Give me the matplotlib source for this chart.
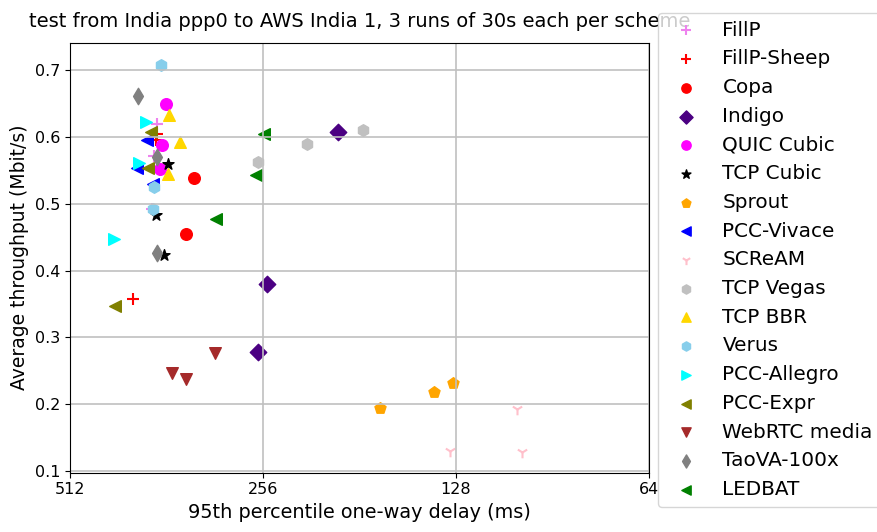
import matplotlib
matplotlib.use("Agg")
import matplotlib.pyplot as plt
from matplotlib.ticker import FixedLocator, NullLocator, FixedFormatter

# (delay ms, throughput Mbit/s) per run
fillp_delay = [375, 379, 381]
fillp_tput = [0.620, 0.571, 0.492]
fillp_sheep_delay = [375, 376, 408]
fillp_sheep_tput = [0.605, 0.596, 0.357]
copa_delay = [328, 337]
copa_tput = [0.539, 0.454]
indigo_delay = [195.5, 252, 260.6]
indigo_tput = [0.608, 0.380, 0.278]
quic_delay = [363, 368, 370]
quic_tput = [0.650, 0.588, 0.552]
cubic_delay = [360.5, 376, 365]
cubic_tput = [0.560, 0.483, 0.423]
sprout_delay = [168.4, 138.7, 129.4]
sprout_tput = [0.194, 0.218, 0.231]
vivace_delay = [388, 402, 380]
vivace_tput = [0.596, 0.553, 0.530]
scream_delay = [103, 130.6, 101]
scream_tput = [0.193, 0.130, 0.128]
vegas_delay = [178.5, 218.7, 260.6]
vegas_tput = [0.610, 0.590, 0.563]
bbr_delay = [359, 345, 360]
bbr_tput = [0.633, 0.593, 0.545]
verus_delay = [369, 378, 380]
verus_tput = [0.707, 0.525, 0.492]
allegro_delay = [390, 400, 436.6]
allegro_tput = [0.623, 0.561, 0.447]
expr_delay = [383, 386.6, 435]
expr_tput = [0.608, 0.554, 0.347]
webrtc_delay = [304, 354.7, 337]
webrtc_tput = [0.277, 0.246, 0.237]
taova_delay = [401, 374, 374]
taova_tput = [0.661, 0.570, 0.426]
ledbat_delay = [254.8, 262.6, 303]
ledbat_tput = [0.604, 0.543, 0.477]

schemes = [
    ("FillP", fillp_delay, fillp_tput, "violet", "+"),
    ("FillP-Sheep", fillp_sheep_delay, fillp_sheep_tput, "red", "+"),
    ("Copa", copa_delay, copa_tput, "red", "o"),
    ("Indigo", indigo_delay, indigo_tput, "indigo", "D"),
    ("QUIC Cubic", quic_delay, quic_tput, "magenta", "o"),
    ("TCP Cubic", cubic_delay, cubic_tput, "black", "*"),
    ("Sprout", sprout_delay, sprout_tput, "orange", "p"),
    ("PCC-Vivace", vivace_delay, vivace_tput, "blue", "<"),
    ("SCReAM", scream_delay, scream_tput, "pink", "1"),
    ("TCP Vegas", vegas_delay, vegas_tput, "silver", "h"),
    ("TCP BBR", bbr_delay, bbr_tput, "gold", "^"),
    ("Verus", verus_delay, verus_tput, "skyblue", "h"),
    ("PCC-Allegro", allegro_delay, allegro_tput, "cyan", ">"),
    ("PCC-Expr", expr_delay, expr_tput, "olive", "<"),
    ("WebRTC media", webrtc_delay, webrtc_tput, "brown", "v"),
    ("TaoVA-100x", taova_delay, taova_tput, "grey", "d"),
    ("LEDBAT", ledbat_delay, ledbat_tput, "green", "<"),
]

xticks = [512, 256, 128, 64]

fig = plt.figure(figsize=(8.77, 5.32), dpi=100)
ax = fig.add_axes([70 / 877, (532 - 472.7) / 532, (649 - 70) / 877, (472.7 - 42.7) / 532])

for name, xs, ys, color, marker in schemes:
    lw = 1.5 if marker in ("+", "1") else None
    ax.scatter(xs, ys, color=color, marker=marker, s=70, label=name, linewidths=lw)

ax.set_xscale("log", base=2)
ax.set_xlim(512, 64)
ax.set_ylim(0.0975, 0.741)
ax.xaxis.set_major_locator(FixedLocator(xticks))
ax.xaxis.set_major_formatter(FixedFormatter([str(t) for t in xticks]))
ax.xaxis.set_minor_locator(NullLocator())
ax.set_yticks([0.1, 0.2, 0.3, 0.4, 0.5, 0.6, 0.7])
ax.tick_params(labelsize=11.5)
ax.grid(True, color="#c0c0c0", linewidth=1.2)

ax.set_xlabel("95th percentile one-way delay (ms)", fontsize=13.9)
ax.set_ylabel("Average throughput (Mbit/s)", fontsize=13.5)
ax.set_title("test from India ppp0 to AWS India 1, 3 runs of 30s each per scheme",
             fontsize=14, pad=11)

ax.legend(scatterpoints=1, loc="upper left", bbox_to_anchor=(0.999, 1.093),
          fontsize=14.4, markerscale=0.8, labelspacing=0.485)

fig.savefig("out.png", dpi=100)
